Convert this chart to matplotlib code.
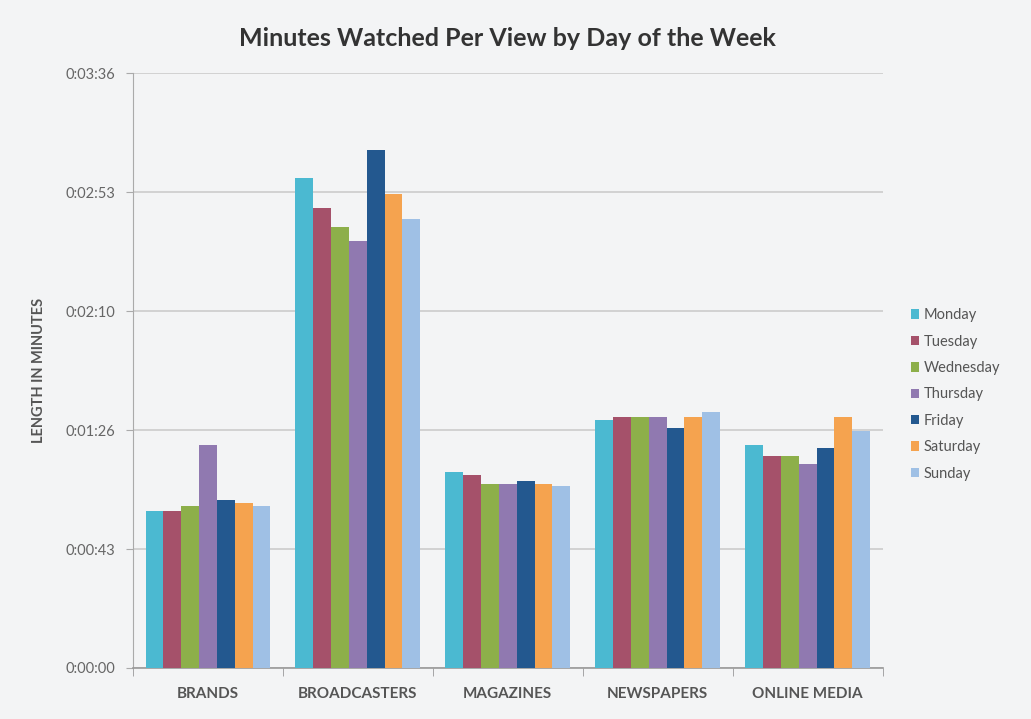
import numpy as np
import matplotlib
matplotlib.use('Agg')
import matplotlib.pyplot as plt
from matplotlib.ticker import FuncFormatter

plt.rcParams['font.family'] = ['Lato', 'DejaVu Sans']

categories = ['BRANDS', 'BROADCASTERS', 'MAGAZINES', 'NEWSPAPERS', 'ONLINE MEDIA']
days = ['Monday', 'Tuesday', 'Wednesday', 'Thursday', 'Friday', 'Saturday', 'Sunday']

# seconds per view
monday = [57, 178, 71, 90, 81]
tuesday = [57, 167, 70, 91, 77]
wednesday = [59, 160, 67, 91, 77]
thursday = [81, 155, 67, 91, 74]
friday = [61, 188, 68, 87, 80]
saturday = [60, 172, 67, 91, 91]
sunday = [59, 163, 66, 93, 86]
series = [monday, tuesday, wednesday, thursday, friday, saturday, sunday]

colors = ['#4bb9d1', '#a5516a', '#8daf4a', '#9079b0', '#23588f', '#f5a34f', '#9fc0e5']

yticks = [0, 43.2, 86.4, 129.6, 172.8, 216]

bg = '#f3f4f5'
fig = plt.figure(figsize=(10.31, 7.19), dpi=100, facecolor=bg)
ax = fig.add_axes([0.129, 0.071, 0.727, 0.827], facecolor=bg)

x = np.arange(len(categories))
w = 0.119
for i, (vals, c, d) in enumerate(zip(series, colors, days)):
    ax.bar(x + (i - 3) * w, vals, w, color=c, label=d, zorder=3)

def fmt(v, pos):
    s = int(round(v))
    return '%d:%02d:%02d' % (s // 3600, (s % 3600) // 60, s % 60)

ax.set_ylim(0, 216)
ax.set_yticks(yticks)
ax.yaxis.set_major_formatter(FuncFormatter(fmt))
ax.set_xlim(-0.5, 4.5)
ax.set_xticks(x)
ax.set_xticklabels(categories, fontweight='bold', fontsize=11, color='#555555')
ax.set_xticks(np.arange(-0.5, 5, 1), minor=True)
ax.tick_params(axis='x', which='major', length=0, pad=14)
ax.tick_params(axis='x', which='minor', length=6, color='#999999', direction='out')
ax.tick_params(axis='y', length=5, color='#aaaaaa', labelsize=10.5, labelcolor='#666666', pad=8)

ax.grid(axis='y', color='#cccccc', linewidth=1.2, zorder=0)
for s in ['top', 'right']:
    ax.spines[s].set_visible(False)
ax.spines['left'].set_color('#aaaaaa')
ax.spines['bottom'].set_color('#999999')
ax.spines['bottom'].set_linewidth(1.2)

ax.set_ylabel('LENGTH IN MINUTES', fontweight='bold', fontsize=10.5, color='#555555', labelpad=14)
ax.set_title('Minutes Watched Per View by Day of the Week', fontweight='bold', fontsize=18,
             color='#333333', pad=20)

leg = ax.legend(loc='center left', bbox_to_anchor=(1.02, 0.46), frameon=False,
                handlelength=0.6, handleheight=0.6, handletextpad=0.3, labelspacing=0.85,
                fontsize=10.5, labelcolor='#555555')

fig.savefig('out.png', dpi=100, facecolor=bg)
